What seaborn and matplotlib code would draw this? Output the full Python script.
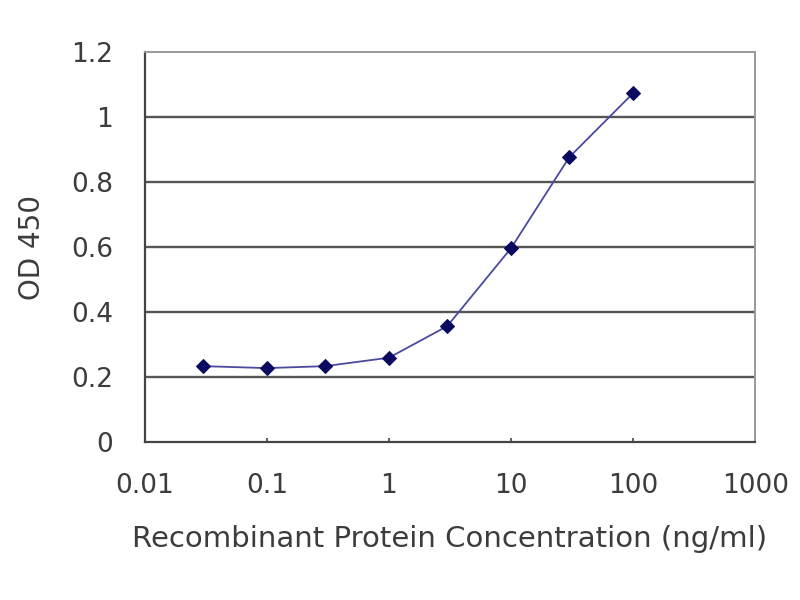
import matplotlib
matplotlib.use("Agg")
import matplotlib.pyplot as plt
import seaborn as sns
import pandas as pd
from matplotlib.ticker import FixedLocator, FixedFormatter, NullLocator

concentration = [0.03, 0.1, 0.3, 1, 3, 10, 30, 100]
od450 = [0.234, 0.228, 0.234, 0.26, 0.357, 0.597, 0.877, 1.074]
x_ticks = [0.01, 0.1, 1, 10, 100, 1000]
x_tick_labels = ["0.01", "0.1", "1", "10", "100", "1000"]
y_ticks = [0, 0.2, 0.4, 0.6, 0.8, 1.0, 1.2]
y_tick_labels = ["0", "0.2", "0.4", "0.6", "0.8", "1", "1.2"]

df = pd.DataFrame({"conc": concentration, "od": od450})

sns.set_theme(style="white")
plt.rcParams["font.family"] = ["DejaVu Sans"]

fig = plt.figure(figsize=(8, 6), dpi=100)
ax = fig.add_axes([0.181, 0.263, 0.763, 0.650])

ax.set_xscale("log")
ax.set_xlim(0.01, 1000)
ax.set_ylim(0, 1.2)

for yv in y_ticks[1:-1]:
    ax.axhline(yv, color="#555555", lw=1.7, zorder=1)

sns.lineplot(data=df, x="conc", y="od", ax=ax, color="#4a4aa0", lw=1.3,
             marker="D", markersize=7.5, markerfacecolor="#0a0a60",
             markeredgecolor="#0a0a60", zorder=3)

ax.xaxis.set_major_locator(FixedLocator(x_ticks))
ax.xaxis.set_major_formatter(FixedFormatter(x_tick_labels))
ax.xaxis.set_minor_locator(NullLocator())
ax.set_yticks(y_ticks)
ax.set_yticklabels(y_tick_labels)

ax.tick_params(axis="y", labelsize=19, colors="#3c3c3c", length=0, pad=23)
ax.tick_params(axis="x", labelsize=19, labelcolor="#3c3c3c", bottom=True, length=3,
               width=1.2, direction="in", color="#444444", pad=22)

ax.set_xlabel("Recombinant Protein Concentration (ng/ml)", fontsize=21, color="#3c3c3c", labelpad=19)
ax.set_ylabel("OD 450", fontsize=20, color="#3c3c3c", labelpad=18)

for side in ["left", "bottom"]:
    ax.spines[side].set_color("#444444")
    ax.spines[side].set_linewidth(1.6)
for side in ["top", "right"]:
    ax.spines[side].set_color("#999999")
    ax.spines[side].set_linewidth(1.4)

fig.savefig("out.png", dpi=100)
